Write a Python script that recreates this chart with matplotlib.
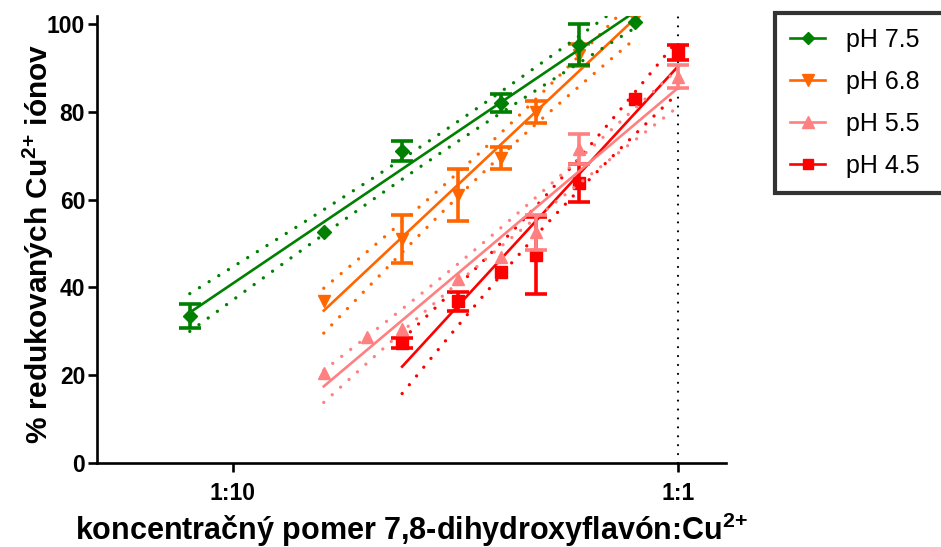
import numpy as np
import matplotlib
matplotlib.use("Agg")
import matplotlib.pyplot as plt
from matplotlib.lines import Line2D

plt.rcParams["font.family"] = ["Liberation Sans", "DejaVu Sans"]
plt.rcParams["mathtext.fontset"] = "custom"
plt.rcParams["mathtext.rm"] = "Liberation Sans:bold"
plt.rcParams["mathtext.it"] = "Liberation Sans:bold"
plt.rcParams["mathtext.bf"] = "Liberation Sans:bold"

# ---------------------------------------------------------------------------
# Data (ratio flavone:Cu2+, mean % reduced, SEM of triplicates)
# ---------------------------------------------------------------------------
labels = ["pH 7.5", "pH 6.8", "pH 5.5", "pH 4.5"]

x_75 = [0.08, 0.16, 0.24, 0.40, 0.60, 0.80]
y_75 = [33.5, 52.7, 71.1, 82.0, 95.3, 100.5]
e_75 = [2.8, 0.0, 2.3, 2.0, 4.7, 0.0]

x_68 = [0.16, 0.24, 0.32, 0.40, 0.48, 0.60, 0.80]
y_68 = [37.0, 51.0, 61.0, 69.5, 80.0, 93.0, 101.0]
e_68 = [0.0, 5.5, 6.0, 2.5, 2.5, 2.5, 0.0]

x_55 = [0.16, 0.20, 0.24, 0.32, 0.40, 0.48, 0.60, 1.00]
y_55 = [20.4, 28.6, 30.5, 41.8, 47.0, 52.5, 71.5, 88.0]
e_55 = [0.0, 0.0, 0.8, 0.5, 0.0, 4.0, 3.5, 2.7]

x_45 = [0.24, 0.32, 0.40, 0.48, 0.60, 0.80, 1.00]
y_45 = [27.3, 36.8, 43.4, 47.3, 63.7, 83.0, 93.5]
e_45 = [1.2, 2.1, 0.5, 8.8, 4.3, 0.5, 1.8]

colors = ["#008000", "#ff6600", "#ff8080", "#ff0000"]
markers = ["D", "v", "^", "s"]
msizes = [7, 9, 9, 8]

N_REP = 3
# two-sided 95% t values by degrees of freedom
T95 = {16: 2.120, 19: 2.093, 22: 2.074}

series = [(x_75, y_75, e_75), (x_68, y_68, e_68),
          (x_55, y_55, e_55), (x_45, y_45, e_45)]

fig = plt.figure(figsize=(9.41, 5.47), dpi=100)
ax = fig.add_axes([0.1031, 0.1536, 0.6684, 0.8172])

for i, ((xs, ys, es), col, mk, ms) in enumerate(zip(series, colors, markers, msizes)):
    xs = np.asarray(xs)
    ys = np.asarray(ys)
    es = np.asarray(es)
    lx = np.log10(xs)
    z = 10 - i

    # semilog linear fit, 95% confidence band using all replicates
    slope, icpt = np.polyfit(lx, ys, 1)
    n = len(xs)
    ss_mean = np.sum((ys - (icpt + slope * lx)) ** 2)
    ss_within = np.sum((N_REP - 1) * (es * np.sqrt(N_REP)) ** 2)
    dof = N_REP * n - 2
    s = np.sqrt((N_REP * ss_mean + ss_within) / dof)
    sxx = N_REP * np.sum((lx - lx.mean()) ** 2)
    gx = np.linspace(lx.min(), lx.max(), 200)
    gy = icpt + slope * gx
    half = T95[dof] * s * np.sqrt(1.0 / (N_REP * n) + (gx - lx.mean()) ** 2 / sxx)

    ax.plot(10 ** gx, gy, color=col, lw=1.9, zorder=z)
    for band in (gy + half, gy - half):
        ax.plot(10 ** gx, band, color=col, lw=2.4, linestyle=(0, (0.01, 3.4)),
                dash_capstyle="round", zorder=z)

    # error bars hidden when shorter than the symbol (as Prism does)
    show = es >= 1.0
    ax.errorbar(xs[show], ys[show], yerr=es[show], fmt="none", ecolor=col,
                elinewidth=2.6, capsize=8, capthick=2.6, zorder=z + 0.4)
    ax.plot(xs, ys, linestyle="none", marker=mk, ms=ms, color=col, mec=col,
            zorder=z + 0.5)

# vertical dotted reference at 1:1
ax.axvline(1.0, color="black", lw=1.6, linestyle=(0, (0.01, 4.0)),
           dash_capstyle="round", zorder=2)

ax.set_xscale("log")
ax.set_xlim(0.0495, 1.282)
ax.set_ylim(0, 101.8)
ax.set_xticks([0.1, 1.0])
ax.set_xticklabels(["1:10", "1:1"])
ax.xaxis.set_minor_locator(matplotlib.ticker.NullLocator())
ax.set_yticks([0, 20, 40, 60, 80, 100])

for side in ("top", "right"):
    ax.spines[side].set_visible(False)
for side in ("left", "bottom"):
    ax.spines[side].set_linewidth(1.9)

ax.tick_params(axis="both", direction="out", length=6.5, width=1.9,
               labelsize=16.5)
ax.tick_params(axis="x", pad=7)
ax.tick_params(axis="y", pad=2)
for lab in ax.get_xticklabels() + ax.get_yticklabels():
    lab.set_fontweight("bold")

ax.set_xlabel("koncentračný pomer 7,8-dihydroxyflavón:Cu$^{2{+}}$",
              fontsize=22, fontweight="bold", labelpad=4)
ax.set_ylabel("% redukovaných Cu$^{2{+}}$ iónov",
              fontsize=21.5, fontweight="bold")
ax.yaxis.set_label_coords(-0.066, 0.49)

handles = [Line2D([], [], color=c, marker=m, ms=ms * 0.9, lw=1.9)
           for c, m, ms in zip(colors, markers, msizes)]
leg = fig.legend(handles, labels, loc="upper left",
                 bbox_to_anchor=(0.8236, 0.649, 0.2, 0.327), mode="expand",
                 fontsize=18, frameon=True, fancybox=False,
                 handlelength=1.4, handletextpad=0.85, labelspacing=0.72,
                 borderpad=0.6, borderaxespad=0.0)
leg.get_frame().set_edgecolor("black")
leg.get_frame().set_linewidth(3)

fig.savefig("out.png", dpi=100)
